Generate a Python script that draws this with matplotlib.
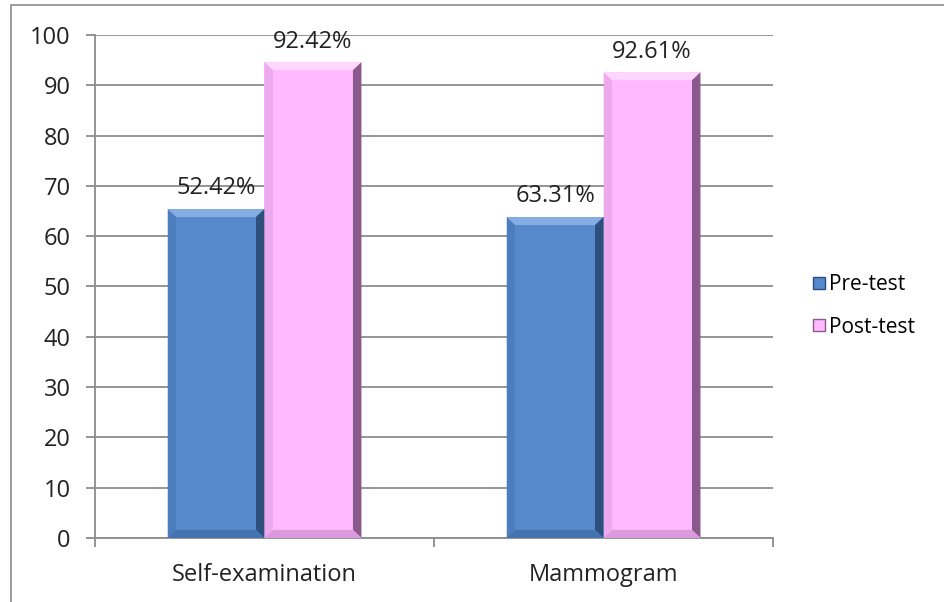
import numpy as np
import matplotlib.pyplot as plt
from matplotlib.patches import Polygon, Rectangle
from matplotlib.lines import Line2D

categories = ['Self-examination', 'Mammogram']
series_names = ['Pre-test', 'Post-test']
pre_heights = [65.4, 63.8]
post_heights = [94.6, 92.6]
pre_labels = ['52.42%', '63.31%']
post_labels = ['92.42%', '92.61%']

plt.rcParams['font.family'] = ['Open Sans', 'DejaVu Sans']

fig = plt.figure(figsize=(9.45, 6.02), dpi=100)
ax = fig.add_axes([0.1005, 0.1063, 0.7175, 0.8356])

# outer chart border
fig.patches.append(Rectangle((11 / 945, -0.1), 1.2, 1.1 - 5 / 602, transform=fig.transFigure,
                             fill=False, edgecolor='#8c8c8c', linewidth=1.2))

barWidth = 0.286
x = np.arange(len(categories))
colors = ['#5589cc', '#ffb9ff']
light = ['#86ade3', '#ffd6ff']
dark = ['#2c4f7c', '#8a5a8c']
mid_dark = ['#4474b0', '#dc9ade']


def bevel_bar(xc, h, i):
    x0, x1 = xc - barWidth / 2, xc + barWidth / 2
    ax.bar(xc, h, width=barWidth, color=colors[i], edgecolor='none', zorder=3)
    bx, by = 0.025, 1.6
    # top, right, bottom, left facets
    ax.add_patch(Polygon([(x0, h), (x1, h), (x1 - bx, h - by), (x0 + bx, h - by)],
                         closed=True, facecolor=light[i], edgecolor='none', zorder=4))
    ax.add_patch(Polygon([(x1, h), (x1, 0), (x1 - bx, by), (x1 - bx, h - by)],
                         closed=True, facecolor=dark[i], edgecolor='none', zorder=4))
    ax.add_patch(Polygon([(x0, 0), (x1, 0), (x1 - bx, by), (x0 + bx, by)],
                         closed=True, facecolor=mid_dark[i], edgecolor='none', zorder=4))
    ax.add_patch(Polygon([(x0, h), (x0, 0), (x0 + bx, by), (x0 + bx, h - by)],
                         closed=True, facecolor=mid_dark[i], edgecolor='none', zorder=4, alpha=0.5))


for k in range(len(categories)):
    bevel_bar(x[k] - barWidth / 2, pre_heights[k], 0)
    bevel_bar(x[k] + barWidth / 2, post_heights[k], 1)
    ax.text(x[k] - barWidth / 2, pre_heights[k] + 2.9, pre_labels[k], ha='center', va='baseline',
            fontsize=17, color='#222222', zorder=5)
    ax.text(x[k] + barWidth / 2, post_heights[k] + 2.9, post_labels[k], ha='center', va='baseline',
            fontsize=17, color='#222222', zorder=5)

ax.set_xlim(-0.5, 1.5)
ax.set_ylim(0, 100)
ax.set_yticks(np.arange(0, 101, 10))
ax.yaxis.grid(True, color='#8c8c8c', linewidth=1.3, zorder=0)
ax.set_axisbelow(True)
ax.set_xticks([-0.5, 0.5, 1.5])
ax.set_xticklabels([])
ax.set_xticks(x, minor=True)
ax.set_xticklabels(categories, minor=True, fontsize=17, color='#222222')
ax.tick_params(axis='x', which='minor', length=0, pad=18)
ax.tick_params(axis='x', which='major', length=6.5, color='#8c8c8c', width=1.3)
ax.tick_params(axis='y', length=6.5, color='#8c8c8c', width=1.3, labelsize=17, pad=11,
               labelcolor='#222222')
for s in ['top', 'right']:
    ax.spines[s].set_visible(False)
for s in ['left', 'bottom']:
    ax.spines[s].set_color('#8c8c8c')
    ax.spines[s].set_linewidth(1.3)

handles = [Line2D([], [], marker='s', linestyle='none', markersize=8,
                  markerfacecolor=colors[i], markeredgecolor=dark[i]) for i in range(2)]
fig.legend(handles, series_names, loc='center left', bbox_to_anchor=(0.84, 0.492),
           frameon=False, fontsize=15, handletextpad=0.0, labelspacing=1.05, handlelength=1.0,
           borderpad=0.2)

fig.savefig('out.png', dpi=100)
